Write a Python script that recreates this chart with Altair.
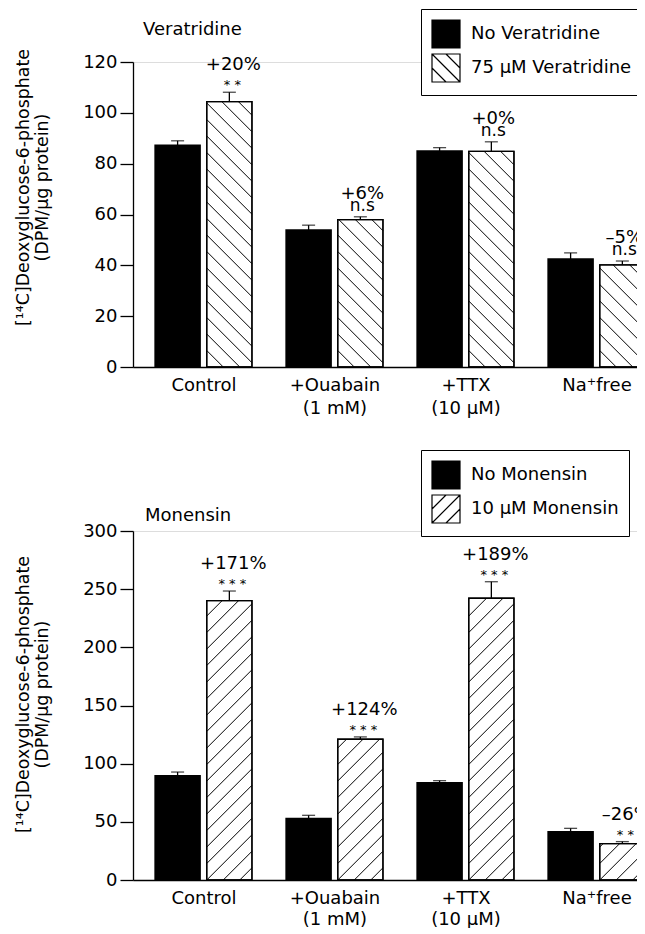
import altair as alt
import pandas as pd
import numpy as np

# ---------------- data ----------------
cond_lines = [["Control"], ["+Ouabain", "(1 mM)"], ["+TTX", "(10 μM)"], ["Na⁺free"]]

ver_series = ["No Veratridine", "75 μM Veratridine"]
ver_no = [87.3, 53.9, 85.0, 42.5]
ver_no_err = [1.7, 1.9, 1.3, 2.4]
ver_yes = [104.4, 58.0, 84.8, 40.2]
ver_yes_err = [3.7, 1.1, 3.8, 1.5]
ver_pct = ["+20%", "+6%", "+0%", "–5%"]
ver_sig = ["*  *", "n.s", "n.s", "n.s"]

mon_series = ["No Monensin", "10 μM Monensin"]
mon_no = [89.7, 53.0, 83.7, 41.6]
mon_no_err = [3.1, 2.6, 1.7, 2.8]
mon_yes = [240.1, 121.0, 242.2, 31.2]
mon_yes_err = [8.3, 2.0, 14.2, 1.8]
mon_pct = ["+171%", "+124%", "+189%", "–26%"]
mon_sig = ["*  *  *", "*  *  *", "*  *  *", "*  *"]

# ---------------- layout constants ----------------
FONT = "DejaVu Sans"
PX_PER_X = 131.0
W = 513
X0 = -0.538
X1 = X0 + W / PX_PER_X
BAR_W = 0.345
HALF_GAP = 0.025
HATCH_SP = 16.5

SQ = "M-1,-1H1V1H-1Z"
HATCH_DOWN = SQ + " M-1,0L0,1 M-1,-1L1,1 M0,-1L1,0"
HATCH_UP = SQ + " M-1,0L0,-1 M-1,1L1,-1 M0,1L1,0"

label_expr = ""
for i, lines in enumerate(cond_lines):
    lab = "'" + lines[0] + "'" if len(lines) == 1 else "[" + ",".join("'" + s + "'" for s in lines) + "]"
    label_expr += f"datum.value == {i} ? {lab} : "
label_expr += "''"


def hatch(xl, xr, h_units, px_per_y, direction):
    w = (xr - xl) * PX_PER_X
    h = h_units * px_per_y
    segs = []
    kmin = int(np.floor(-w / HATCH_SP)) - 1
    kmax = int(np.ceil((h + w) / HATCH_SP)) + 1
    for k in range(kmin, kmax + 1):
        b = k * HATCH_SP
        if direction == "up":
            lo, hi = max(0.0, -b), min(w, h - b)
            if hi - lo > 0.5:
                segs.append((lo, lo + b, hi, hi + b))
        else:
            lo, hi = max(0.0, b - h), min(w, b)
            if hi - lo > 0.5:
                segs.append((lo, b - lo, hi, b - hi))
    return [dict(x=xl + a / PX_PER_X, y=c / px_per_y, x2=xl + d / PX_PER_X, y2=e / px_per_y)
            for a, c, d, e in segs]


def panel(name, series, no, no_err, yes, yes_err, pct, sig, ymax, step, height,
          direction, title_y, legend_y, name_x, name_y, sym_hatch, line_h):
    px_per_y = height / ymax
    rows = []
    for i in range(4):
        rows.append(dict(series=series[0], kind="no", xl=i - HALF_GAP - BAR_W, xr=i - HALF_GAP,
                         xc=i - HALF_GAP - BAR_W / 2, v=no[i], cap=no[i] + no_err[i], zero=0))
        rows.append(dict(series=series[1], kind="yes", xl=i + HALF_GAP, xr=i + HALF_GAP + BAR_W,
                         xc=i + HALF_GAP + BAR_W / 2, v=yes[i], cap=yes[i] + yes_err[i], zero=0))
    df = pd.DataFrame(rows)

    hrows = []
    for r in rows:
        if r["kind"] == "yes":
            hrows += hatch(r["xl"], r["xr"], r["v"], px_per_y, direction)
    hdf = pd.DataFrame(hrows)

    ann = pd.DataFrame(dict(
        xc=[i + HALF_GAP + BAR_W / 2 for i in range(4)],
        cap=[yes[i] + yes_err[i] for i in range(4)],
        pct=pct, sig=sig,
        typ=["ns" if s == "n.s" else "star" for s in sig]))

    xs = alt.Scale(domain=[X0, X1], nice=False, zero=False)
    ys = alt.Scale(domain=[0, ymax], nice=False, zero=True)
    xaxis = alt.Axis(values=[0, 1, 2, 3], labelExpr=label_expr, ticks=False, grid=False,
                     domainColor="black", domainWidth=1.3, labelFontSize=18, labelColor="black",
                     labelPadding=9, labelLineHeight=line_h, labelFlush=False, labelOverlap=False,
                     labelBound=False, labelFont=FONT, title=None)
    yaxis = alt.Axis(values=list(range(0, ymax + 1, step)), tickSize=13, tickColor="black",
                     tickWidth=1.3, domainColor="black", domainWidth=1.3, labelFontSize=18,
                     labelColor="black", labelPadding=3, grid=False, labelFont=FONT,
                     title=["[¹⁴C]Deoxyglucose-6-phosphate", "(DPM/μg protein)"],
                     titleFont=FONT, titleFontSize=17.4, titleFontWeight="normal", titleColor="black",
                     titleX=-119, titleY=title_y, titleAngle=270, titleAlign="center",
                     titleBaseline="top", titleLineHeight=19)

    base = alt.Chart(df)
    bars = base.mark_rect(stroke="black", strokeWidth=1.3).encode(
        x=alt.X("xl:Q", scale=xs, axis=xaxis),
        x2="xr:Q",
        y=alt.Y("v:Q", scale=ys, axis=yaxis),
        y2="zero:Q",
        fill=alt.condition(alt.datum.kind == "no", alt.value("black"), alt.value("white")),
    )
    hlines = alt.Chart(hdf).mark_rule(color="black", strokeWidth=1).encode(
        x="x:Q", x2="x2:Q", y="y:Q", y2="y2:Q")
    outline = base.transform_filter(alt.datum.kind == "yes").mark_rect(
        fill=None, stroke="black", strokeWidth=1.3).encode(x="xl:Q", x2="xr:Q", y="v:Q", y2="zero:Q")
    err = base.mark_rule(color="black", strokeWidth=1.3).encode(x="xc:Q", y="v:Q", y2="cap:Q")
    caps = base.mark_tick(color="black", orient="horizontal", size=13, thickness=1.3).encode(
        x="xc:Q", y="cap:Q")

    leg = alt.Legend(title=None, orient="none", legendX=288, legendY=legend_y,
                     strokeColor="black", fillColor="white", padding=10, labelFontSize=18,
                     labelFont=FONT, labelColor="black", labelLimit=400, symbolSize=784,
                     symbolStrokeColor="black", symbolStrokeWidth=1.2, symbolOpacity=1,
                     rowPadding=0, labelOffset=10, cornerRadius=0)
    carrier = base.mark_point(filled=True, opacity=1, strokeWidth=1.2, clip=True).encode(
        x=alt.value(-3000), y=alt.value(-3000),
        fill=alt.Fill("series:N", scale=alt.Scale(domain=series, range=["black", "white"]), legend=leg),
        stroke=alt.Stroke("series:N", scale=alt.Scale(domain=series, range=["black", "black"]), legend=leg),
        shape=alt.Shape("series:N", scale=alt.Scale(domain=series, range=[SQ, sym_hatch]), legend=leg),
    )

    a = alt.Chart(ann)
    star = a.transform_filter(alt.datum.typ == "star")
    ns = a.transform_filter(alt.datum.typ == "ns")
    t1 = star.mark_text(font=FONT, fontSize=13, dy=-3, dx=3, baseline="alphabetic", color="black").encode(
        x="xc:Q", y="cap:Q", text="sig:N")
    t2 = star.mark_text(font=FONT, fontSize=18, dy=-22, dx=4, baseline="alphabetic", color="black").encode(
        x="xc:Q", y="cap:Q", text="pct:N")
    t3 = ns.mark_text(font=FONT, fontSize=17, dy=-6, dx=2, baseline="alphabetic", color="black").encode(
        x="xc:Q", y="cap:Q", text="sig:N")
    t4 = ns.mark_text(font=FONT, fontSize=18, dy=-18, dx=2, baseline="alphabetic", color="black").encode(
        x="xc:Q", y="cap:Q", text="pct:N")

    ttl = alt.Chart(pd.DataFrame({"t": [name]})).mark_text(
        font=FONT, fontSize=18, align="left", baseline="alphabetic", color="black").encode(
        x=alt.value(name_x), y=alt.value(name_y), text="t:N")

    return alt.layer(bars, hlines, outline, err, caps, carrier, t1, t2, t3, t4, ttl).properties(
        width=W, height=height)


top = panel("Veratridine", ver_series, ver_no, ver_no_err, ver_yes, ver_yes_err, ver_pct, ver_sig,
            120, 20, 305, "down", 125, -53, 10, -27, HATCH_DOWN, 23)
bottom = panel("Monensin", mon_series, mon_no, mon_no_err, mon_yes, mon_yes_err, mon_pct, mon_sig,
               300, 50, 349, "up", 163, -81, 12, -10, HATCH_UP, 21)

chart = alt.vconcat(top, bottom, spacing=31).resolve_scale(
    x="independent", y="independent", fill="independent", shape="independent", stroke="independent"
).resolve_legend(fill="independent", shape="independent", stroke="independent").properties(
    padding={"left": 5, "top": 0, "right": -15, "bottom": -1}
).configure_view(stroke=None).configure(font=FONT)

chart.save("out.html", embed_options={"renderer": "svg", "actions": False})
